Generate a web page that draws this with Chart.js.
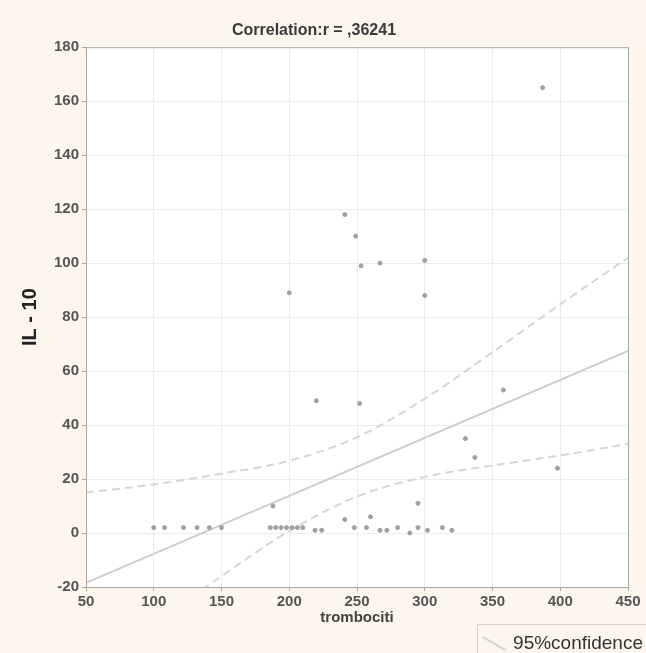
<!DOCTYPE html>
<html>
<head>
<meta charset="utf-8">
<script src="https://cdn.jsdelivr.net/npm/chart.js@4/dist/chart.umd.min.js"></script>
<style>
  html, body { margin: 0; padding: 0; background: #fcf6ec; }
  #wrap { width: 646px; height: 653px; position: relative; }
</style>
</head>
<body>
<div id="wrap"><canvas id="chart1"></canvas></div>
<script>
// scatter: trombociti vs IL-10
const trombociti = [387, 241, 249, 253, 267, 300, 300, 200, 220, 252, 358, 330, 337, 398, 295, 188, 241, 260,
  100, 108, 122, 132, 141, 150, 186, 190, 194, 198, 202, 206, 210, 219, 224, 248, 257, 267, 272, 280, 289, 295, 302, 313, 320];
const il10 = [165, 118, 110, 99, 100, 101, 88, 89, 49, 48, 53, 35, 28, 24, 11, 10, 5, 6,
  2, 2, 2, 2, 2, 2, 2, 2, 2, 2, 2, 2, 2, 1, 1, 2, 2, 1, 1, 2, 0, 2, 1, 2, 1];

// regression line
const lineX = [50, 450];
const lineY = [-18.5, 67.5];

// 95% confidence bands
const bandX = [50, 100, 150, 200, 250, 300, 350, 400, 450];
const upperBand = [15, 18, 22, 26.75, 35.5, 49.75, 67, 84.75, 102];
const lowerBand = [-52, -33.75, -16, 0.75, 13.5, 20.75, 25, 28.75, 33];

const xTicks = [50, 450, 50];   // min, max, step
const yTicks = [-20, 180, 20];

const toPts = (xs, ys) => xs.map((x, i) => ({ x: x, y: ys[i] }));
const FONT = 'Liberation Sans, Arial, sans-serif';

const frame = {
  id: 'frame',
  afterLayout(chart) {
    // push legend into bottom-right corner like the original
    const lg = chart.legend;
    lg.left += 16; lg.right += 16;
  },
  beforeDraw(chart) {
    const a = chart.chartArea, c = chart.ctx;
    c.save();
    c.fillStyle = '#ffffff';
    c.fillRect(a.left, a.top, a.right - a.left, a.bottom - a.top);
    c.restore();
  },
  afterDraw(chart) {
    const a = chart.chartArea, c = chart.ctx;
    c.save();
    c.strokeStyle = '#a8a8a8';
    c.lineWidth = 1;
    c.strokeRect(a.left + 0.5, a.top + 0.5, a.right - a.left, a.bottom - a.top);
    // legend box
    const lg = chart.legend;
    if (lg && lg.legendHitBoxes.length) {
      const hb = lg.legendHitBoxes[0];
      c.strokeStyle = '#d8d2c8';
      c.strokeRect(Math.round(hb.left - 8) + 0.5, Math.round(lg.top - 9) + 0.5, chart.width, chart.height);
    }
    c.restore();
  }
};

const ctx1 = document.getElementById('chart1').getContext('2d');
const chart1 = new Chart(ctx1, {
  type: 'scatter',
  data: {
    datasets: [
      {
        label: 'points',
        data: toPts(trombociti, il10),
        pointRadius: 2,
        pointBackgroundColor: '#a0a0a0',
        pointBorderColor: '#a0a0a0',
        order: 1
      },
      {
        label: 'line',
        data: toPts(lineX, lineY),
        showLine: true,
        pointRadius: 0,
        borderColor: '#cfcfcf',
        borderWidth: 2,
        order: 2
      },
      {
        label: '95%confidence',
        data: toPts(bandX, upperBand),
        showLine: true,
        pointRadius: 0,
        borderColor: '#d6d6d6',
        borderWidth: 2,
        borderDash: [8, 5],
        cubicInterpolationMode: 'monotone',
        pointStyle: 'line',
        rotation: 30,
        order: 3
      },
      {
        label: 'lower',
        data: toPts(bandX, lowerBand),
        showLine: true,
        pointRadius: 0,
        borderColor: '#d6d6d6',
        borderWidth: 2,
        borderDash: [8, 5],
        cubicInterpolationMode: 'monotone',
        order: 3
      }
    ]
  },
  options: {
    responsive: true,
    maintainAspectRatio: false,
    animation: false,
    layout: { padding: { left: 0, right: 18, top: 0, bottom: 0 } },
    plugins: {
      tooltip: { enabled: false },
      title: {
        display: true,
        text: 'Correlation:r = ,36241',
        color: '#3a3a3a',
        font: { family: FONT, size: 16, weight: 'bold' },
        padding: { top: 21, bottom: 7 }
      },
      legend: {
        display: true,
        position: 'bottom',
        align: 'end',
        maxHeight: 20,
        labels: {
          filter: (item) => item.text === '95%confidence',
          usePointStyle: true,
          color: '#333',
          font: { family: FONT, size: 19 },
          padding: 1
        }
      }
    },
    scales: {
      x: {
        type: 'linear',
        min: xTicks[0],
        max: xTicks[1],
        ticks: {
          stepSize: xTicks[2],
          color: '#555',
          padding: 2,
          font: { family: FONT, size: 15, weight: 'bold' }
        },
        grid: { color: '#ececec', tickLength: 4, tickColor: '#aaa' },
        border: { color: '#a8a8a8' },
        title: {
          display: true,
          text: 'trombociti',
          color: '#444',
          font: { family: FONT, size: 15, weight: 'bold' },
          padding: { top: 0, bottom: 6 }
        },
        afterFit(s) { s.height = 653 - 587 - s.chart.legend.height; }
      },
      y: {
        type: 'linear',
        min: yTicks[0],
        max: yTicks[1],
        ticks: {
          stepSize: yTicks[2],
          color: '#555',
          font: { family: FONT, size: 15, weight: 'bold' }
        },
        grid: { color: '#ececec', tickLength: 4, tickColor: '#aaa' },
        border: { color: '#a8a8a8' },
        title: {
          display: true,
          text: 'IL - 10',
          color: '#222',
          font: { family: FONT, size: 20, weight: 'bold' },
          padding: { top: 18, bottom: 0 }
        },
        afterFit(s) { s.width = 86; }
      }
    }
  },
  plugins: [frame]
});
</script>
</body>
</html>
